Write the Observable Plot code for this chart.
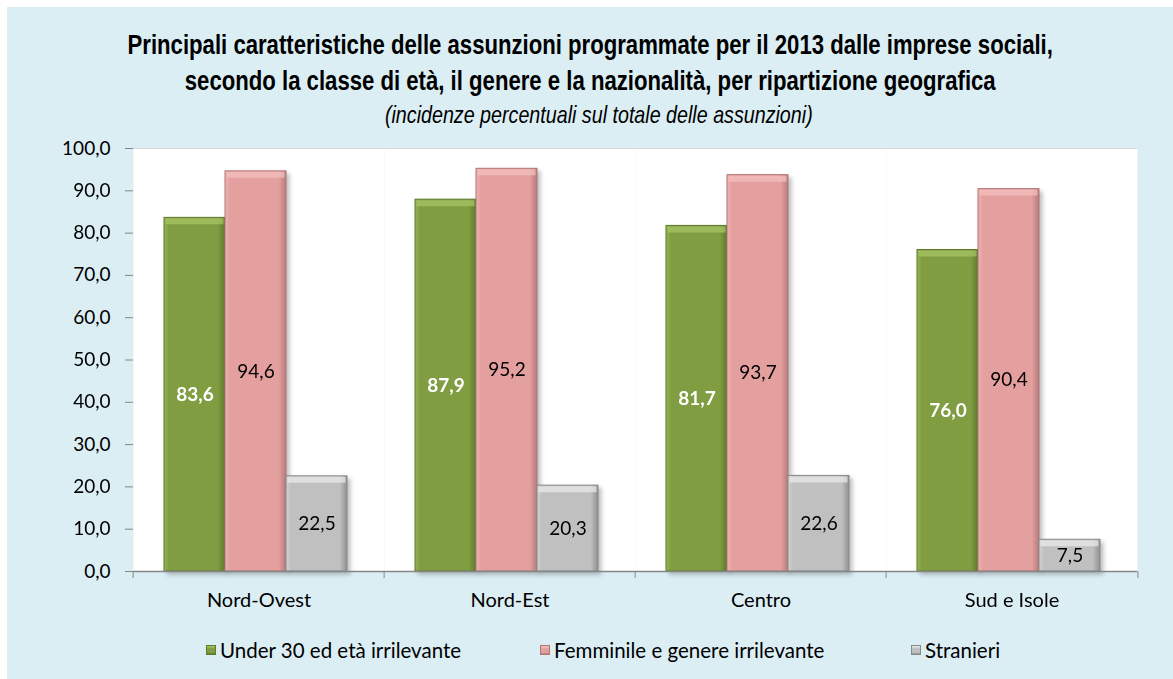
<!DOCTYPE html>
<html>
<head>
<meta charset="utf-8">
<script src="https://cdn.jsdelivr.net/npm/d3@7"></script>
<script src="https://cdn.jsdelivr.net/npm/@observablehq/plot@0.6"></script>
<style>
  html, body { margin: 0; padding: 0; background: #ffffff; }
  body { width: 1173px; height: 679px; position: relative; overflow: hidden; }
  #panel { position: absolute; left: 7px; top: 7px; width: 1166px; height: 672px; background: #dbeef4; }
  #title { position: absolute; left: 7px; top: 27px; width: 1166px; text-align: center; }
  #title span { display: inline-block; transform: scaleX(0.82); transform-origin: 50% 50%; white-space: nowrap;
    font-family: "Liberation Sans", Arial, sans-serif; font-weight: bold; font-size: 27px; line-height: 36px; color: #000; }
  #subtitle { position: absolute; left: 16px; top: 101px; width: 1166px; text-align: center; }
  #subtitle span { display: inline-block; transform: scaleX(0.82); transform-origin: 50% 50%; white-space: nowrap;
    font-family: "Liberation Sans", Arial, sans-serif; font-style: italic; font-size: 24px; line-height: 28px; color: #000; }
  #chart { position: absolute; left: 0; top: 130px; }
  #legend { position: absolute; left: 0; top: 637px; width: 1173px; height: 26px;
    font-family: Lato, Carlito, Calibri, sans-serif; font-size: 20.5px; color: #000; }
  .item { position: absolute; top: 0; display: flex; align-items: center; height: 26px; white-space: nowrap; }
  .sw { width: 10px; height: 10px; margin-right: 4px; box-sizing: border-box; }
</style>
</head>
<body>
<div id="panel"></div>
<div id="title"><span>Principali caratteristiche delle assunzioni programmate per il 2013 dalle imprese sociali,<br>secondo la classe di età, il genere e la nazionalità, per ripartizione geografica</span></div>
<div id="subtitle"><span>(incidenze percentuali sul totale delle assunzioni)</span></div>
<div id="chart"></div>
<div id="legend"></div>
<script>
// ---- data ----
const regions = ["Nord-Ovest", "Nord-Est", "Centro", "Sud e Isole"];
const series = ["Under 30 ed età irrilevante", "Femminile e genere irrilevante", "Stranieri"];
const under30 = [83.6, 87.9, 81.7, 76.0];
const femminile = [94.6, 95.2, 93.7, 90.4];
const stranieri = [22.5, 20.3, 22.6, 7.5];
const yTicks = [0, 10, 20, 30, 40, 50, 60, 70, 80, 90, 100];

const valuesBySeries = [under30, femminile, stranieri];
const rows = [];
regions.forEach((r, i) => series.forEach((s, j) => rows.push({region: r, series: s, value: valuesBySeries[j][i]})));

const fmt = v => v.toFixed(1).replace(".", ",");

const styles = [
  {grad: "gGreen", stroke: "#5d7a2b", bevel: "#a9c866", label: "white", weight: "bold", base: "#809d42", edge: "#5f7b2d", light: "#95b453"},
  {grad: "gPink", stroke: "#b07676", bevel: "#f3c2c1", label: "black", weight: "normal", base: "#e4a09f", edge: "#b77c7c", light: "#eeb3b2"},
  {grad: "gGray", stroke: "#8a8a8a", bevel: "#ececec", label: "black", weight: "normal", base: "#c0c0c0", edge: "#909090", light: "#d2d2d2"}
];

const W = 1173, H = 486, mL = 131, mR = 35, mT = 18, mB = 45;
const bw = (W - mL - mR) / regions.length;

const marks = [
  Plot.frame({fill: "white", stroke: null}),
  Plot.ruleY([100], {stroke: "#d9d9d9"}),
  Plot.axisY({anchor: "right", ticks: [], line: true, stroke: "#d9d9d9", label: null, tickSize: 0}),
];
series.forEach((s, j) => {
  const st = styles[j];
  const d = rows.filter(r => r.series === s);
  marks.push(Plot.barY(d, {fx: "region", x: "series", y: "value", fill: `url(#${st.grad})`, stroke: st.stroke, strokeWidth: 1}));
  marks.push(Plot.tickY(d, {fx: "region", x: "series", y: "value", stroke: st.bevel, strokeWidth: 6, dy: 3.5, insetLeft: 1.5, insetRight: 1.5, strokeOpacity: 0.7}));
  marks.push(Plot.text(d, {fx: "region", x: "series", y: r => r.value / 2, text: r => fmt(r.value), fill: st.label, fontWeight: st.weight, fontSize: 19}));
});
marks.push(
  Plot.ruleY([0], {stroke: "#868686", strokeWidth: 1.5}),
  Plot.axisY({ticks: yTicks, tickFormat: fmt, tickSize: 8, tickPadding: 15, stroke: "#868686", fill: "black", line: true, label: null, fontSize: 19}),
  Plot.axisFx({anchor: "bottom", tickSize: 0, tickPadding: 21, label: null, fontSize: 20, fill: "black"}),
  Plot.axisFx({anchor: "bottom", tickSize: 7, tickFormat: () => "", label: null, stroke: "#868686", dx: -bw / 2}),
  Plot.axisFx({anchor: "bottom", ticks: [regions[regions.length - 1]], tickSize: 7, tickFormat: () => "", label: null, stroke: "#868686", dx: bw / 2})
);

const chart = Plot.plot({
  width: W, height: H,
  marginTop: mT, marginLeft: mL, marginRight: mR, marginBottom: mB,
  style: {background: "transparent", fontFamily: "Lato, Carlito, Calibri, sans-serif", fontSize: "18px", color: "#000", overflow: "visible"},
  fx: {domain: regions, padding: 0, label: null},
  x: {domain: series, paddingInner: 0, paddingOuter: 0.53, align: 0.45, axis: null},
  y: {domain: [0, 100], label: null},
  marks
});

// gradients for bevelled look
const defs = d3.select(chart).insert("defs", ":first-child");
styles.forEach(st => {
  const g = defs.append("linearGradient").attr("id", st.grad).attr("x1", 0).attr("x2", 1).attr("y1", 0).attr("y2", 0);
  g.append("stop").attr("offset", "0%").attr("stop-color", st.light);
  g.append("stop").attr("offset", "8%").attr("stop-color", st.base);
  g.append("stop").attr("offset", "88%").attr("stop-color", st.base);
  g.append("stop").attr("offset", "100%").attr("stop-color", st.edge);
});
d3.select(chart).selectAll("g[aria-label=bar]").style("filter", "drop-shadow(3px 3px 2px rgba(0,0,0,0.25))");

document.getElementById("chart").appendChild(chart);

// legend
const legendLefts = [206, 540, 911];
const legend = document.getElementById("legend");
series.forEach((s, j) => {
  const st = styles[j];
  const it = document.createElement("div");
  it.className = "item";
  it.style.left = legendLefts[j] + "px";
  const sw = document.createElement("span");
  sw.className = "sw";
  sw.style.background = `linear-gradient(to bottom, ${st.bevel} 0%, ${st.base} 35%, ${st.base} 80%, ${st.edge} 100%)`;
  sw.style.border = `1px solid ${st.stroke}`;
  const tx = document.createElement("span");
  tx.textContent = s;
  it.appendChild(sw); it.appendChild(tx);
  legend.appendChild(it);
});
</script>
</body>
</html>
